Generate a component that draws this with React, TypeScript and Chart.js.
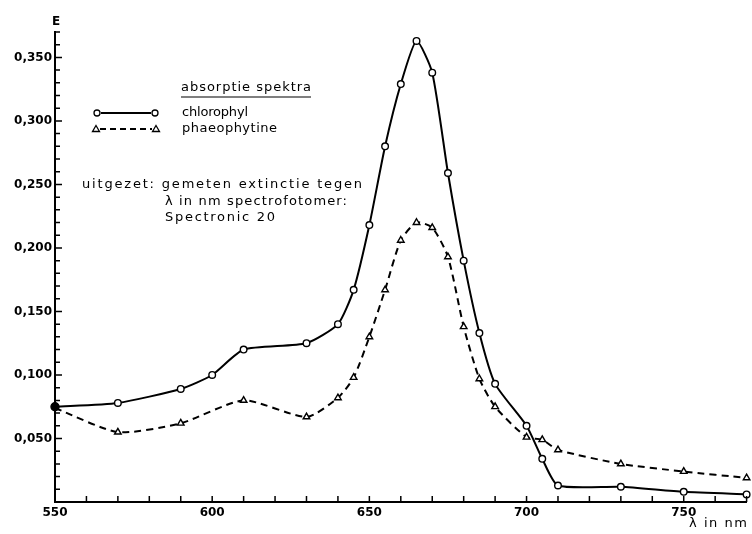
import React, { useEffect, useRef } from "react";
import { Chart, registerables } from "chart.js";

Chart.register(...registerables);

// Wavelength (nm) and measured extinction E
const chlorophylNm = [550, 570, 590, 600, 610, 630, 640, 645, 650, 655, 660, 665, 670, 675, 680, 685, 690, 700, 705, 710, 730, 750, 770];
const chlorophylE = [0.075, 0.078, 0.089, 0.1, 0.12, 0.125, 0.14, 0.167, 0.218, 0.28, 0.329, 0.363, 0.338, 0.259, 0.19, 0.133, 0.093, 0.06, 0.034, 0.013, 0.012, 0.008, 0.006];

const phaeophytineNm = [550, 570, 590, 610, 630, 640, 645, 650, 655, 660, 665, 670, 675, 680, 685, 690, 700, 705, 710, 730, 750, 770];
const phaeophytineE = [0.074, 0.055, 0.062, 0.08, 0.067, 0.082, 0.098, 0.13, 0.167, 0.206, 0.22, 0.216, 0.193, 0.138, 0.097, 0.075, 0.051, 0.049, 0.041, 0.03, 0.024, 0.019];

const xTickLabels = [550, 600, 650, 700, 750];
const yTickLabels = ["0,050", "0,100", "0,150", "0,200", "0,250", "0,300", "0,350"];

const legendTitle = "absorptie spektra";
const seriesNames = ["chlorophyl", "phaeophytine"];
const noteLines = ["uitgezet: gemeten extinctie tegen", "λ in nm spectrofotomer:", "Spectronic 20"];
const yAxisTitle = "E";
const xAxisTitle = "λ in nm";

const FONT = "'DejaVu Sans', sans-serif";

function fitText(ctx: CanvasRenderingContext2D, text: string, x: number, y: number, width: number) {
  (ctx as any).letterSpacing = "0px";
  const w = ctx.measureText(text).width;
  const n = Math.max(1, text.length - 1);
  const sp = (width - w) / n;
  (ctx as any).letterSpacing = `${sp}px`;
  ctx.fillText(text, x, y);
  (ctx as any).letterSpacing = "0px";
}

const decorPlugin = {
  id: "decor",
  afterDraw(chart: any) {
    const ctx: CanvasRenderingContext2D = chart.ctx;
    const xs = chart.scales.x;
    const ys = chart.scales.y;
    const area = chart.chartArea;
    ctx.save();
    ctx.strokeStyle = "#000";
    ctx.fillStyle = "#000";
    // inward tick marks
    ctx.lineWidth = 1.5;
    ctx.beginPath();
    for (const t of xs.ticks) {
      const v = Math.round(t.value);
      if (v === 550) continue;
      const px = xs.getPixelForValue(v);
      ctx.moveTo(px, area.bottom);
      ctx.lineTo(px, area.bottom - 6);
    }
    for (const t of ys.ticks) {
      const m = Math.round(t.value * 1000);
      if (m === 0) continue;
      const py = ys.getPixelForValue(m / 1000);
      const len = m % 50 === 0 ? 7 : 5;
      ctx.moveTo(area.left, py);
      ctx.lineTo(area.left + len, py);
    }
    ctx.stroke();

    // axis titles
    ctx.textBaseline = "middle";
    ctx.textAlign = "left";
    ctx.font = `bold 12px ${FONT}`;
    ctx.fillText(yAxisTitle, 52, 22);
    ctx.font = `13px ${FONT}`;
    fitText(ctx, xAxisTitle, 689, 524, 58);

    // legend
    ctx.font = `13px ${FONT}`;
    fitText(ctx, legendTitle, 181, 88, 130);
    ctx.lineWidth = 1.2;
    ctx.beginPath();
    ctx.moveTo(181, 97);
    ctx.lineTo(311, 97);
    ctx.stroke();
    fitText(ctx, seriesNames[0], 182, 113, 66);
    fitText(ctx, seriesNames[1], 182, 129, 95);

    // legend samples
    ctx.lineWidth = 1.8;
    ctx.beginPath();
    ctx.moveTo(101, 113);
    ctx.lineTo(151, 113);
    ctx.stroke();
    ctx.lineWidth = 1.3;
    for (const cx of [97, 155]) {
      ctx.beginPath();
      ctx.arc(cx, 113, 3, 0, Math.PI * 2);
      ctx.fillStyle = "#fff";
      ctx.fill();
      ctx.stroke();
    }
    ctx.lineWidth = 1.8;
    ctx.setLineDash([6, 4]);
    ctx.beginPath();
    ctx.moveTo(100, 129);
    ctx.lineTo(152, 129);
    ctx.stroke();
    ctx.setLineDash([]);
    ctx.lineWidth = 1.3;
    for (const cx of [96, 156]) {
      ctx.beginPath();
      ctx.moveTo(cx, 125.5);
      ctx.lineTo(cx + 3.5, 131.5);
      ctx.lineTo(cx - 3.5, 131.5);
      ctx.closePath();
      ctx.fillStyle = "#fff";
      ctx.fill();
      ctx.stroke();
    }

    // note
    ctx.fillStyle = "#000";
    fitText(ctx, noteLines[0], 82, 185, 280);
    fitText(ctx, noteLines[1], 165, 202, 182);
    fitText(ctx, noteLines[2], 165, 218, 110);
    ctx.restore();
  },
};

export default function App() {
  const ref = useRef<HTMLCanvasElement | null>(null);

  useEffect(() => {
    if (!ref.current) return;
    const chloroPts = chlorophylNm.map((x, i) => ({ x, y: chlorophylE[i] }));
    const phaeoPts = phaeophytineNm.map((x, i) => ({ x, y: phaeophytineE[i] }));

    const chart = new Chart(ref.current, {
      type: "line",
      data: {
        datasets: [
          {
            label: seriesNames[0],
            data: chloroPts,
            borderColor: "#000",
            borderWidth: 2,
            tension: 0.2,
            pointStyle: "circle",
            pointRadius: chloroPts.map((_, i) => (i === 0 ? 4 : 3.3)),
            pointBackgroundColor: chloroPts.map((_, i) => (i === 0 ? "#000" : "#fff")),
            pointBorderColor: "#000",
            pointBorderWidth: 1.4,
            fill: false,
            clip: false,
          } as any,
          {
            label: seriesNames[1],
            data: phaeoPts,
            borderColor: "#000",
            borderWidth: 2,
            borderDash: [7, 5],
            tension: 0.22,
            pointStyle: "triangle",
            pointRadius: phaeoPts.map((_, i) => (i === 0 ? 0 : 3.8)),
            pointBackgroundColor: "#fff",
            pointBorderColor: "#000",
            pointBorderWidth: 1.4,
            fill: false,
            clip: false,
          } as any,
        ],
      },
      options: {
        animation: false,
        responsive: true,
        maintainAspectRatio: false,
        layout: { padding: { top: 32, right: 4, left: 0, bottom: 0 } },
        plugins: {
          legend: { display: false },
          tooltip: { enabled: false },
        },
        scales: {
          x: {
            type: "linear",
            min: 550,
            max: 770,
            afterFit: (s: any) => {
              s.height = 32;
            },
            ticks: {
              stepSize: 10,
              autoSkip: false,
              maxRotation: 0,
              padding: 4,
              color: "#000",
              font: { family: FONT, size: 12, weight: "bold" },
              callback: (v: any) => {
                const r = Math.round(Number(v));
                return xTickLabels.includes(r) ? String(r) : "";
              },
            },
            grid: { display: true, drawOnChartArea: false, drawTicks: false },
            border: { display: true, color: "#000", width: 2 },
          },
          y: {
            type: "linear",
            min: 0,
            max: 0.37,
            afterFit: (s: any) => {
              s.width = 55;
            },
            ticks: {
              stepSize: 0.01,
              autoSkip: false,
              padding: 3,
              color: "#000",
              font: { family: FONT, size: 12, weight: "bold" },
              callback: (v: any) => {
                const m = Math.round(Number(v) * 1000);
                if (m <= 0 || m % 50 !== 0) return "";
                return yTickLabels[m / 50 - 1] ?? "";
              },
            },
            grid: { display: true, drawOnChartArea: false, drawTicks: false },
            border: { display: true, color: "#000", width: 2 },
          },
        },
      },
      plugins: [decorPlugin],
    });
    return () => chart.destroy();
  }, []);

  return (
    <div style={{ position: "absolute", left: 0, top: 0, width: 752, height: 534, background: "#fff" }}>
      <canvas ref={ref} />
    </div>
  );
}
